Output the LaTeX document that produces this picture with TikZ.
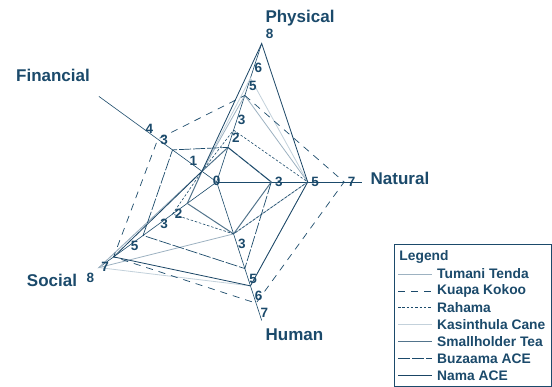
\documentclass[tikz,border=0pt]{standalone}
\usepackage{fontspec}
\setmainfont{Liberation Sans}
\definecolor{navy}{HTML}{1B4A6B}
\definecolor{tumanicol}{HTML}{9DB2C1}
\definecolor{kasincol}{HTML}{C3D1DB}
\definecolor{smallcol}{HTML}{52748C}
\definecolor{namacol}{HTML}{1A4565}
\tikzset{
    axis/.style={draw=navy, line width=0.6pt},
    tumani/.style={draw=tumanicol, line width=0.8pt},
    kuapa/.style={draw=navy, line width=0.7pt, dash pattern=on 7pt off 6pt},
    rahama/.style={draw=navy, line width=0.6pt, dash pattern=on 2.5pt off 1.8pt},
    kasinthula/.style={draw=kasincol, line width=0.8pt},
    smallholder/.style={draw=smallcol, line width=1pt},
    buzaama/.style={draw=navy, line width=0.7pt, dash pattern=on 12pt off 2pt},
    nama/.style={draw=namacol, line width=0.8pt},
    axisname/.style={font=\bfseries\fontsize{17}{17}\selectfont, text=navy, inner sep=0pt},
    tick/.style={font=\bfseries\fontsize{13.5}{13.5}\selectfont, text=navy, inner sep=0pt},
    legtext/.style={font=\bfseries\fontsize{13.8}{13.8}\selectfont, text=navy, anchor=west, inner sep=0pt}
}
% style, physical, natural, human, social, financial
\newcommand{\radar}[6]{\draw[#1] (72:#2*18.2) -- (0:#3*18.2) -- (288:#4*18.2) -- (216:#5*18.2) -- (144:#6*18.2) -- cycle;}
\begin{document}
\begin{tikzpicture}[x=1pt,y=1pt]
    \useasboundingbox[fill=white] (-216.7,-205) rectangle (335.3,182);
    \clip (-216.7,-205) rectangle (335.3,182);

    % axes
    \foreach \a/\n in {72/phys,0/nat,288/hum,216/soc,144/fin}
        \draw[axis] (0,0) -- (\a:145.6) coordinate (\n-end);

    % series
    \radar{kasinthula}{6}{5}{6}{8}{1}
    \radar{tumani}{5}{5}{3}{8}{1}
    \radar{smallholder}{2}{3}{3}{2}{1}
    \radar{rahama}{3}{5}{3}{3}{1}
    \radar{buzaama}{2}{3}{5}{5}{3}
    \radar{kuapa}{5}{7}{7}{7}{4}
    \radar{nama}{8}{5}{6}{7}{1}

    % value labels
    \node[tick] (zero) at (0,1) {0};
    \foreach \v in {2,3,5,6,8}
        \node[tick] (p\v) at ([shift={(8,10)}]72:\v*18.2) {\v};
    \foreach \v in {3,5,7}
        \node[tick] (n\v) at ([shift={(7.5,0)}]0:\v*18.2) {\v};
    \foreach \v in {3,5,6,7}
        \node[tick] (h\v) at ([shift={(8.3,-10)}]288:\v*18.2) {\v};
    \foreach \v in {2,3,5,7,8}
        \node[tick] (s\v) at ([shift={(-8.5,-10)}]216:\v*18.2) {\v};
    \foreach \v in {1,3,4}
        \node[tick] (f\v) at ([shift={(-8.5,10)}]144:\v*18.2) {\v};

    % axis names
    \node[axisname] (physical) at (83.3,164) {Physical};
    \node[axisname] (natural) at (183.3,4) {Natural};
    \node[axisname] (human) at (77.8,-152.3) {Human};
    \node[axisname] (social) at (-164.7,-98) {Social};
    \node[axisname] (financial) at (-163.7,107) {Financial};

    % legend
    \draw[navy, line width=0.6pt] (177.3,-62) rectangle (334.8,-204.6);
    \node[legtext] (legend) at (182.6,-75) {Legend};
    \foreach \s/\t [count=\i from 0] in {tumani/Tumani Tenda, kuapa/Kuapa Kokoo, rahama/Rahama,
            kasinthula/Kasinthula Cane, smallholder/Smallholder Tea, buzaama/Buzaama ACE, nama/Nama ACE} {
        \draw[\s] ({181.3},{-92-16.9*\i}) -- ({215.3},{-92-16.9*\i});
        \node[legtext] (leg\i) at ({220.3},{-92-16.9*\i}) {\t};
    }
\end{tikzpicture}
\end{document}
